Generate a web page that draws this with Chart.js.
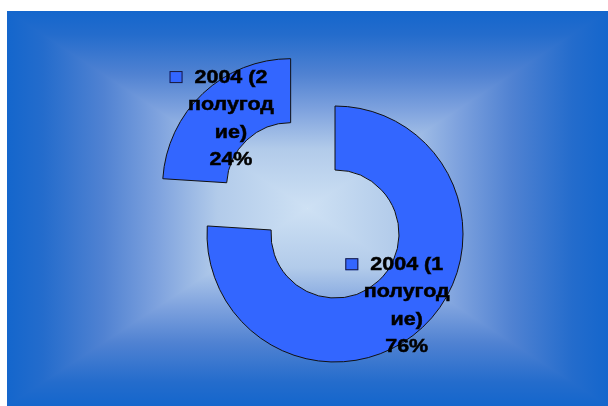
<!DOCTYPE html>
<html>
<head>
<meta charset="utf-8">
<script src="https://cdn.jsdelivr.net/npm/chart.js@4"></script>
<style>
  html, body { margin: 0; padding: 0; background: #fff; }
  #wrap { width: 608px; height: 406px; position: relative; }
</style>
</head>
<body>
<div id="wrap"><canvas id="pie"></canvas></div>
<script>
// chart data
const categories = ['2004 (1 полугодие)', '2004 (2 полугодие)'];
const shares = [76, 24];
// second slice is pulled out of the ring
const sliceOffsets = [0, 259];

// Excel-like label wrap, breaks long words too
function wrapText(text, maxChars) {
    const words = text.split(' ');
    const lines = [];
    let cur = '';
    words.forEach(w => {
        const cand = cur ? cur + ' ' + w : w;
        if (cand.length <= maxChars) {
            cur = cand;
        } else {
            if (cur) lines.push(cur);
            cur = w;
            while (cur.length > maxChars) {
                lines.push(cur.slice(0, maxChars));
                cur = cur.slice(maxChars);
            }
        }
    });
    if (cur) lines.push(cur);
    return lines;
}

// rectangular "from centre" gradient behind everything
const bgPlugin = {
    id: 'bg',
    beforeDraw(chart) {
        const ctx = chart.ctx;
        const W = chart.width, H = chart.height;
        const x0 = 7, y0 = 11, x1 = W, y1 = H;
        const cx = (x0 + x1) / 2, cy = (y0 + y1) / 2;
        const stops = [
            [0, 'rgb(20,102,204)'],
            [0.12, 'rgb(36,108,204)'],
            [0.32, 'rgb(80,130,210)'],
            [0.5, 'rgb(126,162,222)'],
            [0.7, 'rgb(178,203,234)'],
            [1, 'rgb(206,225,244)']
        ];
        const grad = (ax, ay, bx, by) => {
            const g = ctx.createLinearGradient(ax, ay, bx, by);
            stops.forEach(s => g.addColorStop(s[0], s[1]));
            return g;
        };
        ctx.save();
        ctx.fillStyle = '#fff';
        ctx.fillRect(0, 0, W, H);
        // left / right halves
        ctx.fillStyle = grad(x0, cy, cx, cy);
        ctx.fillRect(x0, y0, cx - x0, y1 - y0);
        ctx.fillStyle = grad(x1, cy, cx, cy);
        ctx.fillRect(cx, y0, x1 - cx, y1 - y0);
        // top / bottom triangles
        ctx.beginPath();
        ctx.moveTo(x0, y0); ctx.lineTo(x1, y0); ctx.lineTo(cx, cy); ctx.closePath();
        ctx.fillStyle = grad(cx, y0, cx, cy);
        ctx.fill();
        ctx.beginPath();
        ctx.moveTo(x0, y1); ctx.lineTo(x1, y1); ctx.lineTo(cx, cy); ctx.closePath();
        ctx.fillStyle = grad(cx, y1, cx, cy);
        ctx.fill();
        ctx.restore();
    }
};

// data labels: legend key + wrapped category + percent
const labelPlugin = {
    id: 'sliceLabels',
    afterDatasetsDraw(chart) {
        const ctx = chart.ctx;
        const meta = chart.getDatasetMeta(0);
        const total = shares.reduce((a, b) => a + b, 0);
        const lineH = 27.5;
        const sx = 1.13;
        ctx.save();
        ctx.font = 'bold 19px "Liberation Sans", Arial, sans-serif';
        ctx.textAlign = 'center';
        ctx.textBaseline = 'middle';
        meta.data.forEach((arc, i) => {
            const p = arc.getProps(['x', 'y', 'startAngle', 'endAngle', 'innerRadius', 'outerRadius'], true);
            const mid = (p.startAngle + p.endAngle) / 2;
            const r = (p.innerRadius + p.outerRadius) / 2 + sliceOffsets[i] / 4;
            const lx = p.x + Math.cos(mid) * r + 6;
            const ly = p.y + Math.sin(mid) * r + 2;
            const lines = wrapText(categories[i], 7);
            lines.push(Math.round(shares[i] / total * 100) + '%');
            lines.forEach((line, j) => {
                const y = ly + (j - (lines.length - 1) / 2) * lineH;
                ctx.save();
                ctx.translate(lx, y);
                ctx.scale(sx, 1);
                ctx.fillStyle = '#000';
                ctx.strokeStyle = '#000';
                ctx.lineWidth = 0.5;
                ctx.fillText(line, 0, 0);
                ctx.strokeText(line, 0, 0);
                ctx.restore();
                if (j === 0) {
                    const tw = ctx.measureText(line).width * sx;
                    const right = lx - tw / 2 - 12;
                    ctx.fillStyle = '#3366ff';
                    ctx.fillRect(right - 13, y - 6.5, 13, 12);
                    ctx.strokeStyle = '#1a1a3a';
                    ctx.lineWidth = 1;
                    ctx.strokeRect(right - 13 + 0.5, y - 6.5 + 0.5, 12, 11);
                }
            });
        });
        ctx.restore();
    }
};

const ctx = document.getElementById('pie').getContext('2d');
const pieChart = new Chart(ctx, {
    type: 'doughnut',
    data: {
        labels: categories,
        datasets: [{
            data: shares,
            backgroundColor: '#3366ff',
            borderColor: '#111',
            borderWidth: 1,
            offset: sliceOffsets,
            hoverOffset: sliceOffsets,
            clip: false
        }]
    },
    options: {
        responsive: true,
        maintainAspectRatio: false,
        animation: false,
        events: [],
        radius: 128,
        cutout: '50%',
        layout: { padding: { left: 62, top: 62, right: 0, bottom: 0 } },
        plugins: {
            legend: { display: false },
            tooltip: { enabled: false }
        }
    },
    plugins: [bgPlugin, labelPlugin]
});
</script>
</body>
</html>
